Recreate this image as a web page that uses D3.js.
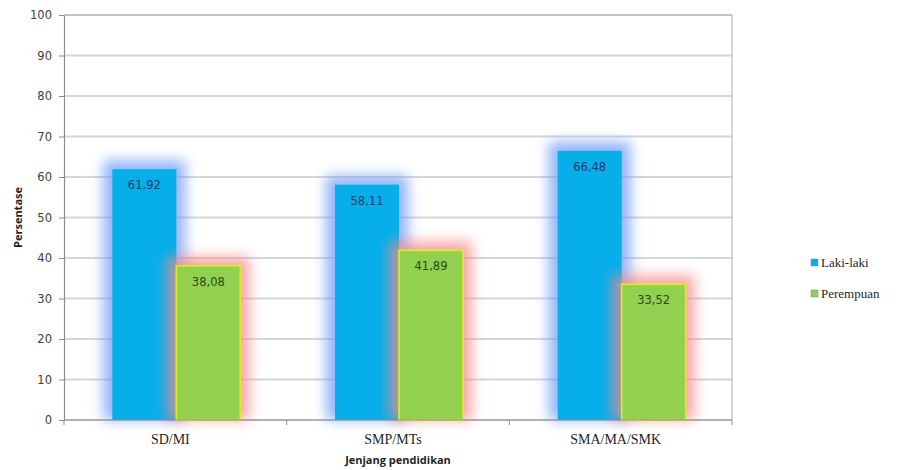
<!DOCTYPE html>
<html>
<head>
<meta charset="utf-8">
<script src="https://cdn.jsdelivr.net/npm/d3@7"></script>
<style>
  html, body { margin: 0; padding: 0; background: #fff; }
  svg { display: block; }
</style>
</head>
<body>
<svg id="chart" width="918" height="470"></svg>
<script>
// Data: share of students by education level and sex
const categories = ["SD/MI", "SMP/MTs", "SMA/MA/SMK"];
const seriesNames = ["Laki-laki", "Perempuan"];
const lakiLaki = [61.92, 58.11, 66.48];
const perempuan = [38.08, 41.89, 33.52];
const yTicks = [0, 10, 20, 30, 40, 50, 60, 70, 80, 90, 100];
const formatValue = v => v.toFixed(2).replace(".", ",");

const svg = d3.select("#chart");
const margin = { left: 64, right: 186, top: 15, bottom: 50 };
const W = 918, H = 470;
const plotW = W - margin.left - margin.right;
const plotH = H - margin.top - margin.bottom;

const x0 = d3.scaleBand().domain(categories).range([0, plotW]).paddingInner(0).paddingOuter(0);
const x1 = d3.scaleBand().domain(seriesNames).range([0, 128]).padding(0);
const y = d3.scaleLinear().domain([0, 100]).range([plotH, 0]);

const colors = { "Laki-laki": "#06aeea", "Perempuan": "#92d050" };
const glowColors = { "Laki-laki": "#6e9cf6", "Perempuan": "#f58a8a" };
const labelColors = { "Laki-laki": "#1d3c66", "Perempuan": "#2c4a12" };

const defs = svg.append("defs");
const blur = defs.append("filter").attr("id", "glow")
  .attr("x", "-60%").attr("y", "-60%").attr("width", "220%").attr("height", "220%");
blur.append("feGaussianBlur").attr("stdDeviation", 6.5);

const g = svg.append("g").attr("transform", `translate(${margin.left},${margin.top})`);

// Horizontal gridlines
g.append("g").selectAll("line").data(yTicks).join("line")
  .attr("x1", 0).attr("x2", plotW)
  .attr("y1", d => y(d)).attr("y2", d => y(d))
  .attr("stroke", d => d === 100 ? "#8c8c8c" : "#d6d6d6")
  .attr("stroke-width", d => d === 100 ? 1.2 : 1.8);

// Right border of the plot area
g.append("line").attr("x1", plotW).attr("x2", plotW).attr("y1", 0).attr("y2", plotH)
  .attr("stroke", "#b0b0b0").attr("stroke-width", 1);

const rows = categories.map((c, i) => ({
  cat: c,
  vals: [{ s: "Laki-laki", v: lakiLaki[i] }, { s: "Perempuan", v: perempuan[i] }]
}));

const bandOffset = (x0.bandwidth() - 128) / 2 + 1;
const groups = g.append("g").selectAll("g").data(rows).join("g")
  .attr("transform", d => `translate(${x0(d.cat) + bandOffset},0)`);

// Each series: soft glow, then the bar itself
groups.each(function (d) {
  const grp = d3.select(this);
  d.vals.forEach(p => {
    const bx = x1(p.s), bw = x1.bandwidth();
    grp.append("rect")
      .attr("x", bx - 9).attr("y", y(p.v) - 9)
      .attr("width", bw + 18).attr("height", plotH - y(p.v) + 9)
      .attr("fill", glowColors[p.s]).attr("opacity", 0.75)
      .attr("filter", "url(#glow)");
    const bar = grp.append("rect")
      .attr("x", bx).attr("y", y(p.v))
      .attr("width", bw).attr("height", plotH - y(p.v))
      .attr("fill", colors[p.s]);
    if (p.s === "Perempuan") {
      bar.attr("stroke", "#e2ee1c").attr("stroke-width", 1.6);
    }
  });
  d.vals.forEach(p => {
    grp.append("text")
      .attr("x", x1(p.s) + x1.bandwidth() / 2)
      .attr("y", y(p.v) + 20)
      .attr("text-anchor", "middle")
      .attr("font-family", "DejaVu Sans, sans-serif")
      .attr("font-size", 11.5)
      .attr("fill", labelColors[p.s])
      .text(formatValue(p.v));
  });
});

// Left axis
const yAxis = g.append("g").call(d3.axisLeft(y).tickValues(yTicks).tickSize(5).tickSizeOuter(0));
yAxis.select(".domain").attr("stroke", "#8c8c8c").attr("stroke-width", 1.2);
yAxis.selectAll(".tick line").attr("stroke", "#8c8c8c");
yAxis.selectAll(".tick text")
  .attr("font-family", "DejaVu Sans, sans-serif").attr("font-size", 11.5)
  .attr("fill", "#404040").attr("x", -12);

// Bottom axis with ticks between categories
const xAxis = g.append("g").attr("transform", `translate(0,${plotH})`);
xAxis.append("line").attr("x1", 0).attr("x2", plotW).attr("stroke", "#8c8c8c").attr("stroke-width", 1.2);
xAxis.selectAll("line.tk").data([0, 1, 2, 3]).join("line").attr("class", "tk")
  .attr("x1", i => i * x0.step()).attr("x2", i => i * x0.step())
  .attr("y1", 0).attr("y2", 5).attr("stroke", "#8c8c8c");
xAxis.selectAll("text").data(categories).join("text")
  .attr("x", d => x0(d) + x0.bandwidth() / 2 - 5)
  .attr("y", 24)
  .attr("text-anchor", "middle")
  .attr("font-family", "Liberation Serif, serif")
  .attr("font-size", 14)
  .attr("fill", "#1f1f1f")
  .text(d => d);

// Axis titles
svg.append("text")
  .attr("transform", `translate(22,${margin.top + plotH / 2}) rotate(-90)`)
  .attr("text-anchor", "middle")
  .attr("font-family", "Open Sans, sans-serif").attr("font-weight", "bold")
  .attr("font-size", 11).attr("fill", "#1f1f1f")
  .text("Persentase");
svg.append("text")
  .attr("x", 398).attr("y", 464)
  .attr("text-anchor", "middle")
  .attr("font-family", "Open Sans, sans-serif").attr("font-weight", "bold")
  .attr("font-size", 11).attr("fill", "#1f1f1f")
  .text("Jenjang pendidikan");

// Legend
const legend = svg.append("g").attr("transform", "translate(811,259)");
seriesNames.forEach((s, i) => {
  const row = legend.append("g").attr("transform", `translate(0,${i * 31})`);
  row.append("rect").attr("x", 0).attr("y", 0).attr("width", 7).attr("height", 7)
    .attr("fill", colors[s]).attr("stroke", "#7a8a9a").attr("stroke-width", 0.5);
  row.append("text").attr("x", 10).attr("y", 7.5)
    .attr("font-family", "Liberation Serif, serif").attr("font-size", 13)
    .attr("fill", "#1f1f1f").text(s);
});
</script>
</body>
</html>
